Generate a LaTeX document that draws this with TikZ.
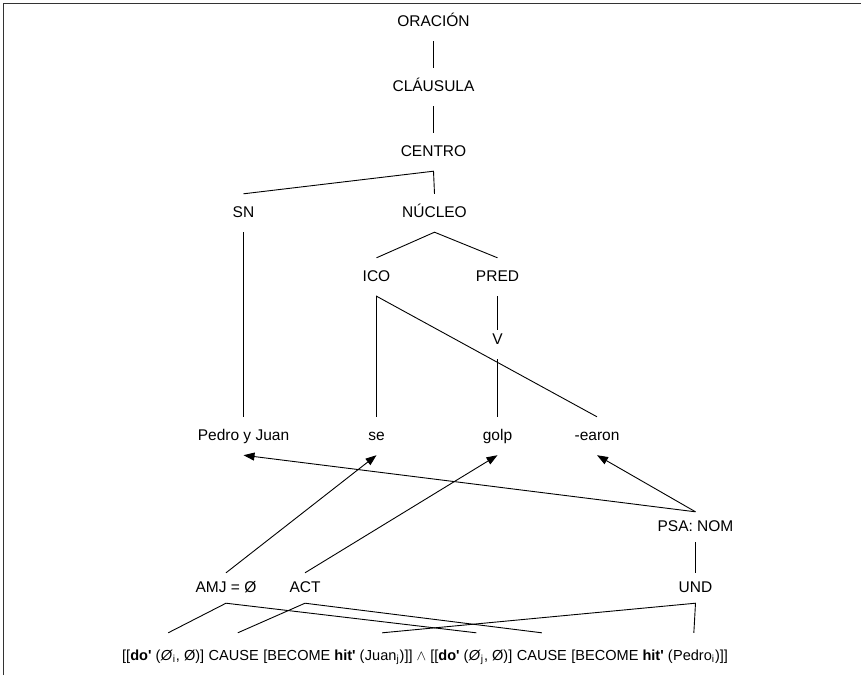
\documentclass[tikz,border=0pt]{standalone}
\usepackage{fontspec}
\setmainfont{Liberation Sans}
\usetikzlibrary{arrows.meta,calc}
\begin{document}
\begin{tikzpicture}[x=1pt,y=-1pt,
  lbl/.style={font=\fontsize{15.5}{18}\selectfont, inner xsep=0pt, inner ysep=11.75pt, text height=11.5pt, text depth=3pt},
  lblb/.style={lbl, inner ysep=7.75pt},
  fm/.style={font=\fontsize{14.55}{18}\selectfont, inner xsep=0pt, inner ysep=16.5pt, text height=11pt, text depth=3pt, anchor=base west},
  conn/.style={draw=black, line width=0.9pt},
  arr/.style={conn, -{Triangle[length=11pt,width=8pt]}}]
\useasboundingbox (0,0) rectangle (861,675);
\draw[line width=1.6pt, black!80] (3.5,675) -- (3.5,3.5) -- (861,3.5);

% tree labels
\node[lbl] (oracion) at (433.5,22) {ORACIÓN};
\node[lbl] (clausula) at (433.5,87) {CLÁUSULA};
\node[lbl] (centro) at (433.5,152) {CENTRO};
\node[lbl] (sn) at (243.5,213) {SN};
\node[lbl] (nucleo) at (434.5,213) {NÚCLEO};
\node[lbl] (ico) at (376.5,277) {ICO};
\node[lbl] (pred) at (497.5,277) {PRED};
\node[lbl] (v) at (497.5,340) {V};
\node[lbl] (pedro) at (243.5,436) {Pedro y Juan};
\node[lbl] (se) at (376.5,436) {se};
\node[lbl] (golp) at (497.5,436) {golp};
\node[lbl] (earon) at (597,436) {-earon};
\node[lblb] (psa) at (695.5,527) {PSA: NOM};
\node[lblb] (amj) at (226,588) {AMJ = Ø};
\node[lblb] (act) at (305,588) {ACT};
\node[lblb] (und) at (695.5,588) {UND};

% formula pieces
\node[fm] (f1) at (122,660.5) {[[\textbf{do\textquotesingle} (};
\node[fm] (oi) at (f1.base east) {\textit{Ø}\textsubscript{i}};
\node[fm] (f2) at (oi.base east) {, Ø)]\kern\fontdimen2\font};
\node[fm] (causea) at (f2.base east) {CAUSE};
\node[fm] (f3) at (causea.base east) {\kern\fontdimen2\font[BECOME \textbf{hit\textquotesingle} (};
\node[fm] (juan) at (f3.base east) {Juan\textsubscript{j}};
\node[fm] (f4) at (juan.base east) {)]] $\wedge$ [[\textbf{do\textquotesingle} (};
\node[fm] (oj) at (f4.base east) {\textit{Ø}\textsubscript{j}};
\node[fm] (f5) at (oj.base east) {, Ø)]\kern\fontdimen2\font};
\node[fm] (causeb) at (f5.base east) {CAUSE};
\node[fm] (f6) at (causeb.base east) {\kern\fontdimen2\font[BECOME \textbf{hit\textquotesingle} (};
\node[fm] (pedroi) at (f6.base east) {Pedro\textsubscript{i}};
\node[fm] (f7) at (pedroi.base east) {)]]};

% tree connectors
\draw[conn] (oracion.south) -- (clausula.north);
\draw[conn] (clausula.south) -- (centro.north);
\draw[conn] (sn.north) -- (centro.south) -- (nucleo.north);
\draw[conn] (ico.north) -- (nucleo.south) -- (pred.north);
\draw[conn] (pred.south) -- ([yshift=-9pt]v.north);
\draw[conn] (v.south) -- (golp.north);
\draw[conn] (se.north) -- (ico.south) -- (earon.north);
\draw[conn] (sn.south) -- (pedro.north);

% arrows
\draw[arr] (psa.north) -- (pedro.south);
\draw[arr] (psa.north) -- (earon.south);
\draw[arr] (amj.north) -- (se.south);
\draw[arr] (act.north) -- (golp.south);
\draw[conn] (psa.south) -- (und.north);

% lower links
\draw[conn] (oi.north) -- (amj.south) -- (oj.north);
\draw[conn] ([xshift=4pt]causea.north) -- (act.south) -- (causeb.north);
\draw[conn] (juan.north) -- (und.south) -- (pedroi.north);
\end{tikzpicture}
\end{document}
